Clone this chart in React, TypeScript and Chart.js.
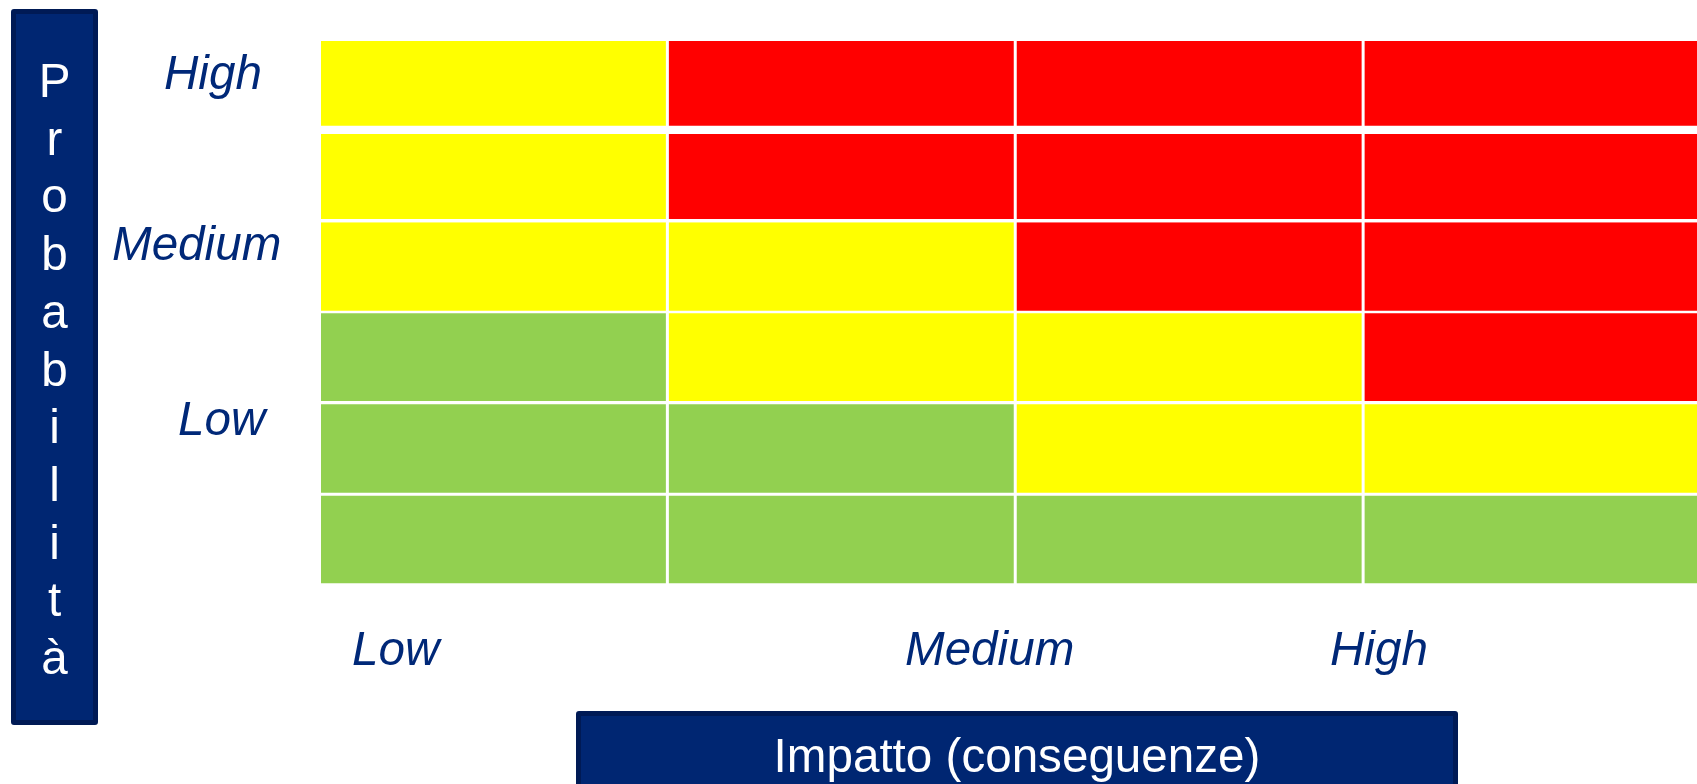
import React, { useEffect, useRef } from "react";
import { Chart, registerables } from "chart.js";

Chart.register(...registerables);

// Impact columns (left -> right)
const impactCategories = ["I1", "I2", "I3", "I4"];
// Probability rows, bottom -> top
const probabilityRows = ["P1", "P2", "P3", "P4", "P5", "P6"];
// Risk level per cell: 0 = low (green), 1 = medium (yellow), 2 = high (red)
const riskP1 = [0, 0, 0, 0];
const riskP2 = [0, 0, 1, 1];
const riskP3 = [0, 1, 1, 2];
const riskP4 = [1, 1, 2, 2];
const riskP5 = [1, 2, 2, 2];
const riskP6 = [1, 2, 2, 2];
const riskRows = [riskP1, riskP2, riskP3, riskP4, riskP5, riskP6];
// each cell occupies one unit of probability
const cellSpan = [1, 1, 1, 1];

const probabilityTickLabels = ["High", "Medium", "Low"];
const impactTickLabels = ["Low", "Medium", "High"];
const yAxisTitle = "Probabilità";
const xAxisTitle = "Impatto (conseguenze)";

// styles
const riskColors = ["#92D050", "#FFFF00", "#FF0000"];
const rowBorders = [
  { top: 1.4, bottom: 1.7, left: 1.5, right: 1.5 },
  { top: 0.6, bottom: 1.6, left: 1.5, right: 1.5 },
  { top: 0.3, bottom: 2.7, left: 1.5, right: 1.5 },
  { top: 0, bottom: 2.3, left: 1.5, right: 1.5 },
  { top: 2.3, bottom: 3.3, left: 1.5, right: 1.5 },
  { top: 0, bottom: 6, left: 1.5, right: 1.5 },
];
const FONT = '"Liberation Sans", Arial, Helvetica, sans-serif';
const FONT_SIZE = 47.6;
const NAVY = "#002672";
const NAVY_BORDER = "#001A55";
const LABEL_COLOR = "#002878";

const yLabelPos = [
  { left: 164, top: 49 },
  { left: 112, top: 220 },
  { left: 178, top: 395 },
];
const xLabelPos = [
  { left: 352, top: 625 },
  { left: 905, top: 625 },
  { left: 1330, top: 625 },
];

export default function App() {
  const canvasRef = useRef<HTMLCanvasElement | null>(null);

  useEffect(() => {
    const canvas = canvasRef.current;
    if (!canvas) return;
    const datasets = probabilityRows.map((row, i) => ({
      label: row,
      data: cellSpan.slice(),
      backgroundColor: riskRows[i].map((r) => riskColors[r]),
      borderColor: "#FFFFFF",
      borderWidth: rowBorders[i],
      borderSkipped: false as const,
      inflateAmount: 0,
      barPercentage: 1,
      categoryPercentage: 1,
    }));
    const chart = new Chart(canvas, {
      type: "bar",
      data: { labels: impactCategories, datasets },
      options: {
        responsive: false,
        animation: false,
        events: [],
        layout: { padding: { left: 319.5, top: 41, right: 9, bottom: 199 } },
        plugins: { legend: { display: false }, tooltip: { enabled: false } },
        scales: {
          x: { stacked: true, display: false },
          y: { stacked: true, display: false, min: 0, max: probabilityRows.length },
        },
      },
    });
    return () => chart.destroy();
  }, []);

  const labelStyle: React.CSSProperties = {
    position: "absolute",
    fontFamily: FONT,
    fontSize: FONT_SIZE,
    lineHeight: "47px",
    fontStyle: "italic",
    color: LABEL_COLOR,
    whiteSpace: "nowrap",
  };

  return (
    <div
      style={{
        position: "fixed",
        left: 0,
        top: 0,
        width: 1697,
        height: 784,
        overflow: "hidden",
        background: "#FFFFFF",
      }}
    >
      <canvas
        ref={canvasRef}
        width={1720}
        height={784}
        style={{ position: "absolute", left: 0, top: 0, width: 1720, height: 784 }}
      />

      {/* Probability box */}
      <div
        style={{
          position: "absolute",
          left: 11,
          top: 9,
          width: 87,
          height: 716,
          boxSizing: "border-box",
          background: NAVY,
          border: `5px solid ${NAVY_BORDER}`,
          borderRadius: 3,
        }}
      />
      <div
        style={{
          position: "absolute",
          left: 11,
          top: 52,
          width: 87,
          textAlign: "center",
          fontFamily: FONT,
          fontSize: FONT_SIZE,
          lineHeight: "57.7px",
          color: "#FFFFFF",
        }}
      >
        {Array.from(yAxisTitle).map((ch, i) => (
          <div key={i}>{ch}</div>
        ))}
      </div>

      {/* Impact box */}
      <div
        style={{
          position: "absolute",
          left: 576,
          top: 711,
          width: 882,
          height: 110,
          boxSizing: "border-box",
          background: NAVY,
          border: `5px solid ${NAVY_BORDER}`,
          borderRadius: 3,
        }}
      />
      <div
        style={{
          position: "absolute",
          left: 576,
          top: 732,
          width: 882,
          textAlign: "center",
          fontFamily: FONT,
          fontSize: FONT_SIZE,
          lineHeight: "47px",
          color: "#FFFFFF",
          whiteSpace: "nowrap",
        }}
      >
        {xAxisTitle}
      </div>

      {probabilityTickLabels.map((t, i) => (
        <div key={"y" + i} style={{ ...labelStyle, ...yLabelPos[i] }}>
          {t}
        </div>
      ))}
      {impactTickLabels.map((t, i) => (
        <div key={"x" + i} style={{ ...labelStyle, ...xLabelPos[i] }}>
          {t}
        </div>
      ))}
    </div>
  );
}
